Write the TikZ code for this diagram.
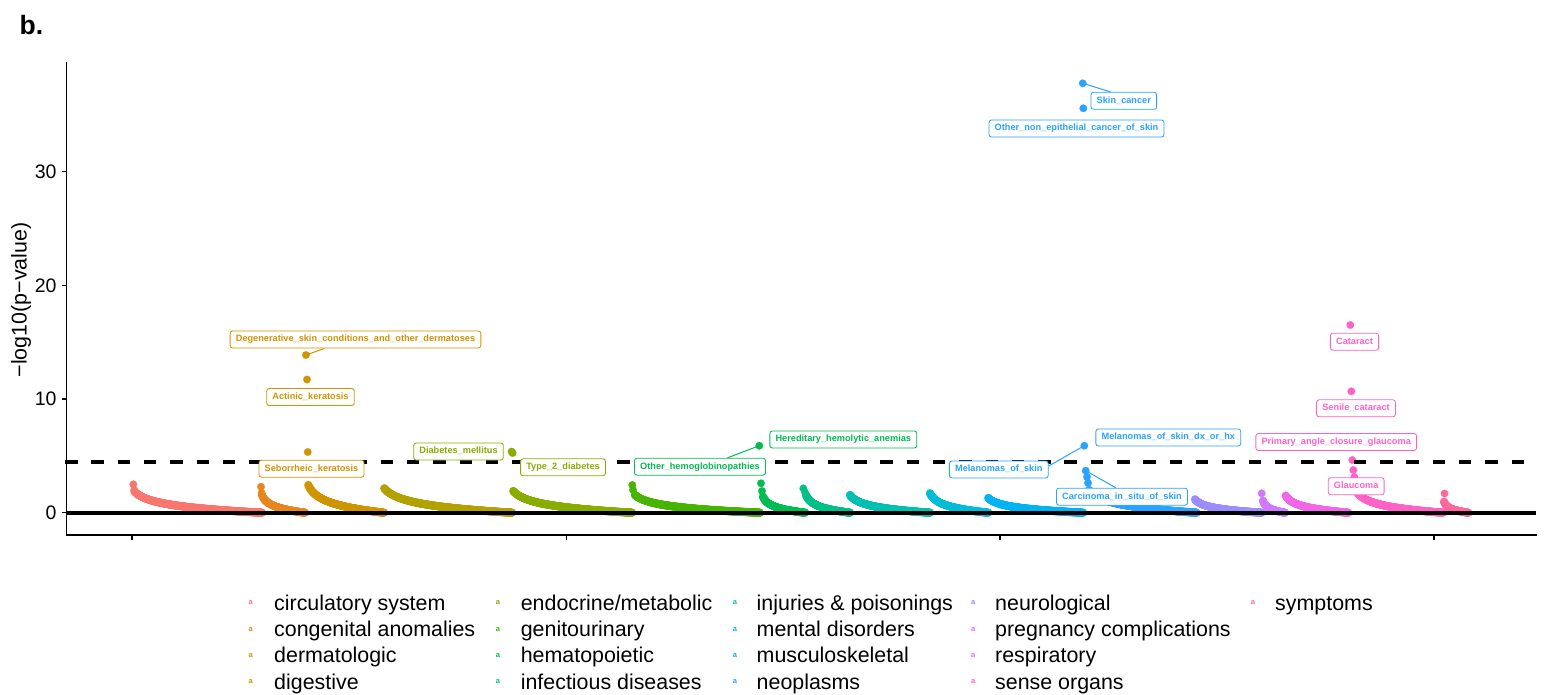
\documentclass[tikz,border=0pt]{standalone}
\usepackage{fontspec}
\setmainfont{Liberation Sans}
\definecolor{c01}{HTML}{F8766D}
\definecolor{c02}{HTML}{E7851E}
\definecolor{c03}{HTML}{D09400}
\definecolor{c04}{HTML}{B2A100}
\definecolor{c05}{HTML}{89AC00}
\definecolor{c06}{HTML}{45B500}
\definecolor{c07}{HTML}{00BC51}
\definecolor{c08}{HTML}{00C087}
\definecolor{c09}{HTML}{00C0B2}
\definecolor{c10}{HTML}{00BCD6}
\definecolor{c11}{HTML}{00B3F2}
\definecolor{c12}{HTML}{29A3FF}
\definecolor{c13}{HTML}{9C8DFF}
\definecolor{c14}{HTML}{D277FF}
\definecolor{c15}{HTML}{F166E8}
\definecolor{c16}{HTML}{FF61C7}
\definecolor{c17}{HTML}{FF689E}
\newcommand\labfont{\fontsize{9.2}{10}\selectfont\bfseries}
\newcommand\legfont{\fontsize{21.4}{24}\selectfont}
\newcommand\tickfont{\fontsize{19.5}{22}\selectfont}
\newcommand\keyfont{\fontsize{7.5}{8}\selectfont\bfseries}
% curve of points: colour, x start, y start, x end, samples
\newcommand\pwseg[5]{%
  \path[draw=#1, fill=#1, line width=0.2pt] plot[only marks, mark=*, mark size=4pt, domain=0:1, samples=#5]
    ({#2+(#4-#2)*\x},{512.7-(512.7-#3)*ln(1/(0.05+0.95*\x))/2.9957});}
% legend entry: name, key x, text x, row y, colour, text
\newcommand\legitem[6]{%
  \node[key=#5] (key#1) at (#2,#4) {a};
  \node[legtext] (leg#1) at (#3,#4+7.3) {#6};}
\tikzset{
  lab/.style={draw=#1, fill=white, text=#1, rounded corners=2.5pt, line width=0.85pt, font=\labfont,
              inner xsep=5.7pt, inner ysep=4.2pt, text height=6.7pt, text depth=1.9pt},
  pt/.style={circle, draw=#1, fill=#1, line width=0.2pt, inner sep=0pt, minimum size=7.5pt},
  conn/.style={draw=#1, line width=1pt},
  key/.style={text=#1, font=\keyfont, inner sep=0pt},
  legtext/.style={anchor=base west, font=\legfont, inner sep=0pt},
  ticklab/.style={anchor=east, font=\tickfont, inner sep=0pt},
  axisline/.style={line width=1.1pt, line cap=rect},
}
\begin{document}
\begin{tikzpicture}[x=1pt, y=-1pt]
\useasboundingbox[fill=white] (0,0) rectangle (1546,694);

% panel letter
\node[anchor=base west, inner sep=0pt, font=\fontsize{26.5}{30}\selectfont\bfseries] (letter) at (19.5,34) {b.};

% y axis title
\node[rotate=90, font=\legfont, inner sep=0pt] (ytitle) at (21.2,300) {−log10(p−value)};

% axes
\draw[axisline] (66.7,62.5) -- (66.7,535) -- (1536,535);
\foreach \v/\yy in {0/512.7,10/399.0,20/285.3,30/171.6}{
  \draw[line width=1.1pt] (61.8,\yy) -- (66.7,\yy);
  \node[ticklab] (tick\v) at (56.7,\yy) {\v};
}
\foreach \xx in {132,566.7,1000,1434}{
  \draw[line width=1.1pt] (\xx,535) -- (\xx,540);
}

% point curves
\pwseg{c01}{134.5}{491.5}{262}{256}
\pwseg{c02}{262}{495}{305}{90}
\pwseg{c03}{308.3}{485}{384}{150}
\pwseg{c04}{384.3}{488.3}{512}{256}
\pwseg{c05}{513.3}{491}{632}{240}
\pwseg{c06}{635}{495}{760}{250}
\pwseg{c07}{763}{496.7}{805}{90}
\pwseg{c08}{806}{495}{850}{90}
\pwseg{c09}{850}{495}{930}{160}
\pwseg{c10}{930}{493.3}{988.3}{120}
\pwseg{c11}{988.3}{498}{1083.3}{190}
\pwseg{c12}{1089}{490}{1196.7}{216}
\pwseg{c13}{1195}{499.3}{1261.7}{134}
\pwseg{c14}{1263}{500.7}{1285}{50}
\pwseg{c15}{1285.7}{495.7}{1348.3}{126}
\pwseg{c16}{1357}{492}{1443}{172}
\pwseg{c17}{1444}{501.7}{1468.3}{50}

% isolated points at the start of curves
\node[pt=c01] (q01) at (133.3,484.3) {};
\node[pt=c01] (q01b) at (134.2,490) {};
\node[pt=c02] (q02) at (261,486.7) {};
\node[pt=c02] (q02b) at (261.6,493) {};
\node[pt=c06] (q06) at (632.3,485) {};
\node[pt=c06] (q06b) at (633,490) {};
\node[pt=c07] (q07) at (761,483.3) {};
\node[pt=c07] (q07b) at (762,491) {};
\node[pt=c08] (q08) at (803.3,488.3) {};
\node[pt=c08] (q08b) at (805,492.3) {};
\node[pt=c14] (q14) at (1261.7,493.3) {};
\node[pt=c17] (q17) at (1444.5,493.5) {};
\node[pt=c12] (q12b) at (1087,477) {};
\node[pt=c12] (q12c) at (1088,483) {};
\node[pt=c16] (q16b) at (1354.3,477) {};
\node[pt=c16] (q16c) at (1355.3,484) {};
\node[pt=c16] (q16d) at (1356.2,490) {};

% outlying points
\node[pt=c03] (pdeg) at (306,355) {};
\node[pt=c03] (pact) at (307,379.5) {};
\node[pt=c03] (pseb) at (307.7,452) {};
\node[pt=c05] (pdm) at (511.6,451.6) {};
\node[pt=c05] (pt2d) at (512.6,453) {};
\node[pt=c07] (phha) at (759.3,445.7) {};
\node[pt=c12] (pskin) at (1082.7,83.3) {};
\node[pt=c12] (ponep) at (1083.3,108.3) {};
\node[pt=c12] (pmel) at (1084.3,445.7) {};
\node[pt=c12] (pcis) at (1085.7,470.7) {};
\node[pt=c16] (pcat) at (1350.3,325) {};
\node[pt=c16] (psen) at (1351.3,391.3) {};
\node[pt=c16] (pglau) at (1352.3,460) {};
\node[pt=c16] (pglau2) at (1353.3,470) {};

% reference lines
\draw[line width=4.3pt] (66.7,512.7) -- (1536,512.7);
\draw[line width=4pt, dash pattern=on 12.5pt off 13.8pt] (65,462) -- (1536,462);

% labels
\node[lab=c03] (ldeg) at (355.5,339.5) {Degenerative\_skin\_conditions\_and\_other\_dermatoses};
\node[lab=c03] (lact) at (310.5,397) {Actinic\_keratosis};
\node[lab=c03] (lseb) at (311.5,468.7) {Seborrheic\_keratosis};
\node[lab=c05] (ldm) at (458.5,451.5) {Diabetes\_mellitus};
\node[lab=c05] (lt2d) at (563,467.3) {Type\_2\_diabetes};
\node[lab=c07] (lohb) at (700,466.7) {Other\_hemoglobinopathies};
\node[lab=c07] (lhha) at (843.3,439.5) {Hereditary\_hemolytic\_anemias};
\node[lab=c12] (lskin) at (1123.8,100.8) {Skin\_cancer};
\node[lab=c12] (lonep) at (1076.5,128.5) {Other\_non\_epithelial\_cancer\_of\_skin};
\node[lab=c12] (lmeldx) at (1168.3,437.5) {Melanomas\_of\_skin\_dx\_or\_hx};
\node[lab=c12] (lmel) at (998.8,469.5) {Melanomas\_of\_skin};
\node[lab=c12] (lcis) at (1122,496.7) {Carcinoma\_in\_situ\_of\_skin};
\node[lab=c16] (lcat) at (1354.5,341.7) {Cataract};
\node[lab=c16] (lsen) at (1356,408.3) {Senile\_cataract};
\node[lab=c16] (lpacg) at (1336.2,442) {Primary\_angle\_closure\_glaucoma};
\node[lab=c16] (lglau) at (1356.2,486.3) {Glaucoma};

% label connectors
\draw[conn=c03] (pdeg.center) -- (ldeg.196.6);
\draw[conn=c07] (phha.center) -- (lohb.18);
\draw[conn=c12] (pskin.center) -- (lskin.146.6);
\draw[conn=c12] (pmel.center) -- (lmel.4.4);
\draw[conn=c12] (pcis.center) -- (lcis.125);

% legend
\legitem{11}{250.7}{274}{602.7}{c01}{circulatory system}
\legitem{12}{250.7}{274}{629.05}{c02}{congenital anomalies}
\legitem{13}{250.7}{274}{655.4}{c03}{dermatologic}
\legitem{14}{250.7}{274}{681.75}{c04}{digestive}
\legitem{21}{498}{520.6}{602.7}{c05}{endocrine/metabolic}
\legitem{22}{498}{520.6}{629.05}{c06}{genitourinary}
\legitem{23}{498}{520.6}{655.4}{c07}{hematopoietic}
\legitem{24}{498}{520.6}{681.75}{c08}{infectious diseases}
\legitem{31}{735}{756.5}{602.7}{c09}{injuries \& poisonings}
\legitem{32}{735}{756.5}{629.05}{c10}{mental disorders}
\legitem{33}{735}{756.5}{655.4}{c11}{musculoskeletal}
\legitem{34}{735}{756.5}{681.75}{c12}{neoplasms}
\legitem{41}{973.3}{995}{602.7}{c13}{neurological}
\legitem{42}{973.3}{995}{629.05}{c14}{pregnancy complications}
\legitem{43}{973.3}{995}{655.4}{c15}{respiratory}
\legitem{44}{973.3}{995}{681.75}{c16}{sense organs}
\legitem{51}{1253}{1275}{602.7}{c17}{symptoms}
\end{tikzpicture}
\end{document}
